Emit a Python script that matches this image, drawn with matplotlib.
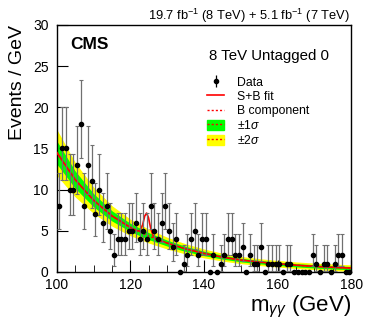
import numpy as np
import matplotlib
matplotlib.use("Agg")
import matplotlib.pyplot as plt
from matplotlib.lines import Line2D
from matplotlib.patches import Patch

plt.rcParams['font.family'] = ['Liberation Sans', 'DejaVu Sans']
plt.rcParams['mathtext.fontset'] = 'custom'
plt.rcParams['mathtext.rm'] = 'Liberation Sans'
plt.rcParams['mathtext.it'] = 'Liberation Sans:italic'

# data: counts per 1 GeV bin from 100 to 180 GeV
mass_lo, mass_hi = 100, 180
counts = [8, 15, 15, 10, 10, 13, 18, 8, 13, 11, 7, 10, 6, 8, 5, 2, 4, 4, 4, 5,
          5, 6, 4, 5, 4, 8, 5, 4, 6, 8, 5, 3, 4, 0, 1, 2, 4, 5, 2, 4,
          4, 0, 2, 0, 1, 2, 4, 4, 2, 2, 3, 0, 2, 1, 1, 3, 0, 1, 1, 1,
          1, 0, 1, 1, 0, 0, 0, 0, 0, 2, 1, 0, 1, 1, 0, 1, 2, 2, 0, 0]

# background component and its uncertainty
bkg_mass = [100, 105, 110, 115, 120, 125, 130, 135, 140, 145, 150, 155, 160, 165, 170, 175, 180]
bkg_val = [14.5, 11.2, 8.7, 6.8, 5.4, 4.35, 3.5, 2.8, 2.25, 1.8, 1.45, 1.2, 1.0, 0.82, 0.68, 0.56, 0.47]
bkg_err1 = [1.4, 1.05, 0.8, 0.62, 0.5, 0.42, 0.36, 0.31, 0.27, 0.24, 0.22, 0.21, 0.2, 0.2, 0.2, 0.2, 0.2]

# signal + background fit
sb_mass = [100, 105, 110, 115, 120, 121.5, 122.5, 123.3, 123.9, 124.4, 124.9, 125.5, 126.2, 127,
           130, 135, 140, 145, 150, 155, 160, 165, 170, 175, 180]
sb_val = [14.5, 11.2, 8.7, 6.8, 5.4, 5.05, 4.95, 5.7, 6.8, 7.15, 6.6, 5.3, 4.35, 4.0,
          3.5, 2.8, 2.25, 1.8, 1.45, 1.2, 1.0, 0.82, 0.68, 0.56, 0.47]

counts = np.array(counts)
centers = np.arange(mass_lo, mass_hi) + 0.5
bm = np.array(bkg_mass)
bv = np.array(bkg_val)
e1 = np.array(bkg_err1)

# approximate poisson errors
err_up = np.sqrt(counts + 0.75) + 1
err_dn = np.where(counts > 0, np.sqrt(np.maximum(counts - 0.25, 0)), 0)

fig = plt.figure(figsize=(3.74, 3.23), dpi=100)
ax = fig.add_axes([0.152, 0.158, 0.787, 0.765])

ax.fill_between(bm, bv - 2 * e1, bv + 2 * e1, color='#ffff00', lw=0, zorder=1)
ax.fill_between(bm, bv - e1, bv + e1, color='#00ff00', lw=0, zorder=2)
ax.plot(bm, bv, color='red', ls=(0, (1.5, 1.5)), lw=1, zorder=3)
ax.plot(sb_mass, sb_val, color='red', lw=1.2, zorder=4)

nz = counts > 0
ax.errorbar(centers[nz], counts[nz], yerr=[err_dn[nz], err_up[nz]], fmt='o', color='black',
            ms=3, ecolor='#707070', elinewidth=0.9, capsize=1.5, capthick=0.8, zorder=5)
ax.plot(centers[~nz], counts[~nz], 'o', color='black', ms=3, zorder=5, clip_on=False)

ax.set_xlim(100, 180)
ax.set_ylim(0, 30)
ax.set_xticks([100, 120, 140, 160, 180])
ax.set_xticks(np.arange(100, 181, 5), minor=True)
ax.set_yticks([0, 5, 10, 15, 20, 25, 30])
ax.tick_params(axis='x', which='major', direction='in', length=9, labelsize=10, pad=4)
ax.tick_params(axis='x', which='minor', direction='in', length=5)
ax.tick_params(axis='y', which='major', direction='in', length=8, labelsize=10, pad=6)
for s in ax.spines.values():
    s.set_linewidth(1)

ax.set_ylabel('Events / GeV', fontsize=14, loc='top', labelpad=5)
ax.set_xlabel(r'm$_{\gamma\gamma}$ (GeV)', fontsize=16, loc='right', labelpad=2)

fig.text(0.937, 0.938, r'19.7 fb$^{-1}$ (8 TeV) + 5.1 fb$^{-1}$ (7 TeV)', ha='right',
         va='baseline', fontsize=9.3)
ax.text(0.045, 0.92, 'CMS', transform=ax.transAxes, fontsize=12.5, fontweight='bold',
        va='center', ha='left')
ax.text(0.721, 0.875, '8 TeV Untagged 0', transform=ax.transAxes, fontsize=10.8,
        ha='center', va='center')

dash = (0, (1.5, 1.5))
h_data = (Line2D([], [], marker='|', color='black', ms=9, mew=0.9, ls='none'),
          Line2D([], [], marker='o', color='black', ms=3, ls='none'))
h_sb = Line2D([], [], color='red', lw=1.2)
h_b = Line2D([], [], color='red', lw=1, ls=dash)
h_1 = (Patch(color='#00ff00'), Line2D([], [], color='red', lw=1, ls=dash))
h_2 = (Patch(color='#ffff00'), Line2D([], [], color='red', lw=1, ls=dash))
ax.legend([h_data, h_sb, h_b, h_1, h_2],
          ['Data', 'S+B fit', 'B component', r'$\pm1\sigma$', r'$\pm2\sigma$'],
          loc='upper left', bbox_to_anchor=(0.49, 0.815), frameon=False, fontsize=8.8,
          handlelength=1.4, handleheight=0.9, labelspacing=0.15, handletextpad=1.0,
          borderpad=0)

fig.savefig('out.png', dpi=100)
